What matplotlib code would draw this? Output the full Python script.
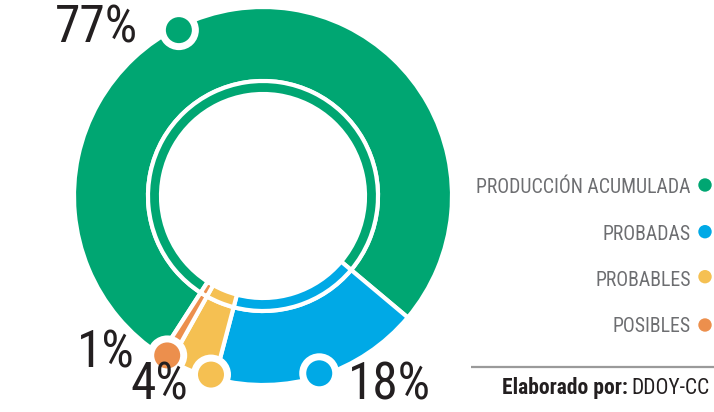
import matplotlib
matplotlib.use("Agg")
import matplotlib.pyplot as plt
from matplotlib import font_manager
from matplotlib.patches import Circle
import numpy as np

# Reserves breakdown
categories = ["PRODUCCIÓN ACUMULADA", "PROBADAS", "PROBABLES", "POSIBLES"]
shares = [77, 18, 4, 1]
pct_labels = ["77%", "18%", "4%", "1%"]
colors = ["#00A672", "#00A9E6", "#F5C052", "#EC8F4D"]
credit_bold = "Elaborado por:"
credit_rest = "DDOY-CC"

available = {f.name for f in font_manager.fontManager.ttflist}
narrow = next((n for n in ["Roboto Condensed", "Liberation Sans Narrow",
                           "DejaVu Sans Condensed", "Liberation Sans"]
               if n in available), "DejaVu Sans")

W, H = 714, 412
fig = plt.figure(figsize=(W / 100, H / 100), dpi=100)
ax = fig.add_axes([0, 0, 1, 1])

# ring geometry in pixels (y up)
cx, cy = 263, H - 196
R_out, R_mid, R_in = 189, 115, 102
end_angle = -40  # where the first slice ends, going clockwise
total = sum(shares)
start = end_angle + 360 * shares[0] / total

ax.pie(shares, colors=colors, startangle=start, counterclock=False,
       center=(cx, cy), radius=R_out,
       wedgeprops=dict(width=R_out - R_mid, edgecolor="white", linewidth=3))
ax.pie(shares, colors=colors, startangle=start, counterclock=False,
       center=(cx, cy), radius=R_mid,
       wedgeprops=dict(width=R_mid - R_in, edgecolor="white", linewidth=3))

ax.set_xlim(0, W)
ax.set_ylim(0, H)
ax.set_aspect("equal")
ax.axis("off")

# dot markers sitting on the outer rim of each slice
cum = np.concatenate([[0], np.cumsum(shares)]) / total
marker_frac = [0.434, 0.5, 0.1, 0.5]
r_mark = 186
for i, col in enumerate(colors):
    a0 = start - 360 * cum[i]
    a1 = start - 360 * cum[i + 1]
    ang = np.deg2rad(a0 + marker_frac[i] * (a1 - a0))
    mx, my = cx + r_mark * np.cos(ang), cy + r_mark * np.sin(ang)
    ax.add_patch(Circle((mx, my), 20, facecolor="white", edgecolor="none", zorder=5))
    ax.add_patch(Circle((mx, my), 13, facecolor=col, edgecolor="none", zorder=6))

# percentage labels: (x, y, horizontal, vertical alignment)
label_pos = [(138, H - 42, "right", "baseline"), (348, 1, "left", "bottom"),
             (188, 1, "right", "bottom"), (135, H - 368, "right", "baseline")]
for txt, (x, y, ha, va) in zip(pct_labels, label_pos):
    ax.text(x, y, txt, ha=ha, va=va, fontsize=37,
            family=narrow, color="#231F20", zorder=7)

# legend on the right
legend_y = [H - 193, H - 240, H - 285.5, H - 332.5]
dot_y = [H - 185, H - 231.7, H - 276.7, H - 325]
for name, col, ty, dy in zip(categories, colors, legend_y, dot_y):
    ax.text(691, ty, name, ha="right", va="baseline", fontsize=14.2,
            family=narrow, color="#6D6E71")
    ax.add_patch(Circle((705, dy), 6.7, facecolor=col, edgecolor="none"))

# separator line and credit
ax.plot([471, 714], [H - 367, H - 367], color="#9A9A9A", linewidth=1.6,
        solid_capstyle="butt")
t_rest = ax.text(710, H - 394, credit_rest, ha="right", va="baseline",
                 fontsize=15.5, family=narrow, color="#231F20")
fig.canvas.draw()
bb = t_rest.get_window_extent(renderer=fig.canvas.get_renderer())
x_left = ax.transData.inverted().transform((bb.x0, bb.y0))[0]
ax.text(x_left - 4, H - 394, credit_bold, ha="right", va="baseline",
        fontsize=15.5, family=narrow, fontweight="bold", color="#231F20")

fig.savefig("out.png", dpi=100, facecolor="white")
